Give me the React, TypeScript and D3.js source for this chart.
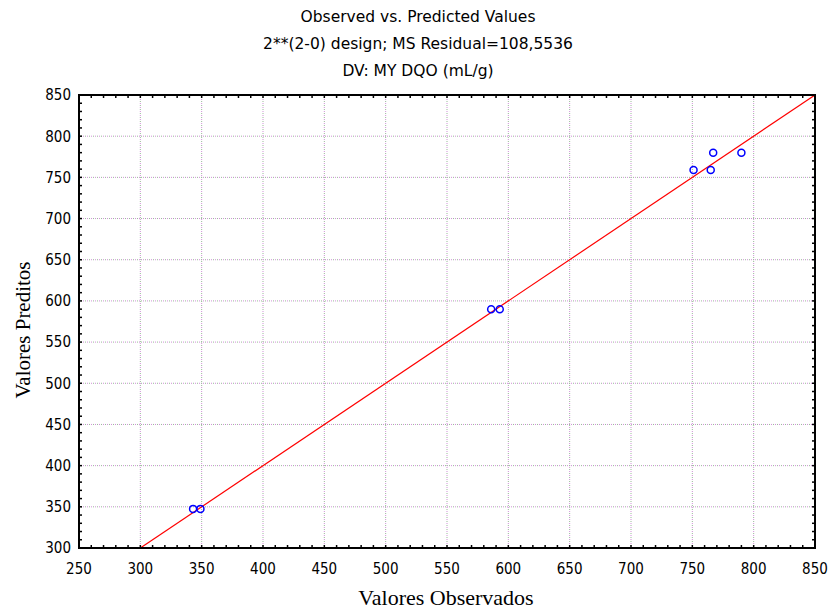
import React, { useEffect, useRef } from "react";
import * as d3 from "d3";

// observed vs predicted values
const observed = [343, 349, 586, 593, 751, 765, 767, 790];
const predicted = [347.5, 347.5, 590, 590, 759, 759, 780, 780];

const titleLines = [
  "Observed vs. Predicted Values",
  "2**(2-0) design; MS Residual=108,5536",
  "DV: MY DQO (mL/g)",
];
const xTicks = [250, 300, 350, 400, 450, 500, 550, 600, 650, 700, 750, 800, 850];
const yTicks = [300, 350, 400, 450, 500, 550, 600, 650, 700, 750, 800, 850];
const lineEnds = [300, 850];

const W = 829;
const H = 609;
const margin = { top: 95, right: 14, bottom: 61, left: 79 };

const App = () => {
  const svgRef = useRef<SVGSVGElement>(null);

  useEffect(() => {
    const svg = d3.select(svgRef.current);
    svg.selectAll("*").remove();

    const x = d3.scaleLinear().domain([250, 850]).range([margin.left, W - margin.right]);
    const y = d3.scaleLinear().domain([300, 850]).range([H - margin.bottom, margin.top]);

    const x0 = margin.left, x1 = W - margin.right;
    const y0 = margin.top, y1 = H - margin.bottom;

    // titles
    svg
      .append("g")
      .selectAll("text")
      .data(titleLines)
      .join("text")
      .attr("x", 418)
      .attr("y", (d, i) => 22 + i * 27)
      .attr("text-anchor", "middle")
      .attr("font-family", "DejaVu Sans, Verdana, sans-serif")
      .attr("font-size", 15.5)
      .attr("fill", "#000")
      .text((d) => d);

    // grid
    const grid = svg.append("g");
    const drawGrid = (color: string, offset: number) => {
      grid
        .append("g")
        .selectAll("line")
        .data(xTicks.slice(1, -1))
        .join("line")
        .attr("x1", (d) => x(d))
        .attr("x2", (d) => x(d))
        .attr("y1", y0)
        .attr("y2", y1)
        .attr("stroke", color)
        .attr("stroke-dasharray", "1,3")
        .attr("stroke-dashoffset", offset);
      grid
        .append("g")
        .selectAll("line")
        .data(yTicks.slice(1, -1))
        .join("line")
        .attr("x1", x0)
        .attr("x2", x1)
        .attr("y1", (d) => y(d))
        .attr("y2", (d) => y(d))
        .attr("stroke", color)
        .attr("stroke-dasharray", "1,3")
        .attr("stroke-dashoffset", offset);
    };
    drawGrid("#d090d8", 0);
    drawGrid("#98b898", 2);

    // fitted line y = x
    svg
      .append("line")
      .attr("x1", x(lineEnds[0]))
      .attr("y1", y(lineEnds[0]))
      .attr("x2", x(lineEnds[1]))
      .attr("y2", y(lineEnds[1]))
      .attr("stroke", "#ff0000")
      .attr("stroke-width", 1.2);

    // points
    svg
      .append("g")
      .selectAll("circle")
      .data(observed.map((o, i) => [o, predicted[i]]))
      .join("circle")
      .attr("cx", (d) => x(d[0]))
      .attr("cy", (d) => y(d[1]))
      .attr("r", 3.5)
      .attr("fill", "none")
      .attr("stroke", "#0000ff")
      .attr("stroke-width", 1.5);

    // frame
    svg
      .append("rect")
      .attr("x", x0)
      .attr("y", y0)
      .attr("width", x1 - x0)
      .attr("height", y1 - y0)
      .attr("fill", "none")
      .attr("stroke", "#000")
      .attr("stroke-width", 2);

    // ticks (inward, on all four sides)
    const xMinor = d3.range(250, 851, 10);
    const yMinor = d3.range(300, 851, 10);
    const ticks = svg.append("g").attr("stroke", "#000").attr("stroke-width", 1.5);
    ticks
      .selectAll(".tb")
      .data(xMinor)
      .join("line")
      .attr("x1", (d) => x(d))
      .attr("x2", (d) => x(d))
      .attr("y1", y1)
      .attr("y2", y1 - 3);
    ticks
      .selectAll(".tt")
      .data(xMinor)
      .join("line")
      .attr("x1", (d) => x(d))
      .attr("x2", (d) => x(d))
      .attr("y1", y0)
      .attr("y2", y0 + 3);
    ticks
      .selectAll(".tl")
      .data(yMinor)
      .join("line")
      .attr("x1", x0)
      .attr("x2", x0 + 3)
      .attr("y1", (d) => y(d))
      .attr("y2", (d) => y(d));
    ticks
      .selectAll(".tr")
      .data(yMinor)
      .join("line")
      .attr("x1", x1)
      .attr("x2", x1 - 3)
      .attr("y1", (d) => y(d))
      .attr("y2", (d) => y(d));

    // tick labels
    svg
      .append("g")
      .selectAll("text")
      .data(xTicks)
      .join("text")
      .attr("x", (d) => x(d))
      .attr("y", y1 + 26)
      .attr("text-anchor", "middle")
      .attr("font-family", "DejaVu Sans Condensed, DejaVu Sans, sans-serif")
      .attr("font-size", 15)
      .attr("fill", "#000")
      .text((d) => d);
    svg
      .append("g")
      .selectAll("text")
      .data(yTicks)
      .join("text")
      .attr("x", x0 - 8)
      .attr("y", (d) => y(d))
      .attr("dy", "0.36em")
      .attr("text-anchor", "end")
      .attr("font-family", "DejaVu Sans Condensed, DejaVu Sans, sans-serif")
      .attr("font-size", 15)
      .attr("fill", "#000")
      .text((d) => d);

    // axis titles
    svg
      .append("text")
      .attr("x", 446)
      .attr("y", 605)
      .attr("text-anchor", "middle")
      .attr("font-family", "Liberation Serif, Times New Roman, serif")
      .attr("font-size", 22)
      .attr("fill", "#000")
      .text("Valores Observados");
    svg
      .append("text")
      .attr("transform", "translate(30, 330) rotate(-90)")
      .attr("text-anchor", "middle")
      .attr("font-family", "Liberation Serif, Times New Roman, serif")
      .attr("font-size", 21)
      .attr("fill", "#000")
      .text("Valores Preditos");
  }, []);

  return (
    <svg
      ref={svgRef}
      width={W}
      height={H}
      style={{ position: "absolute", left: 0, top: 0, background: "#fff" }}
    />
  );
};

export default App;
